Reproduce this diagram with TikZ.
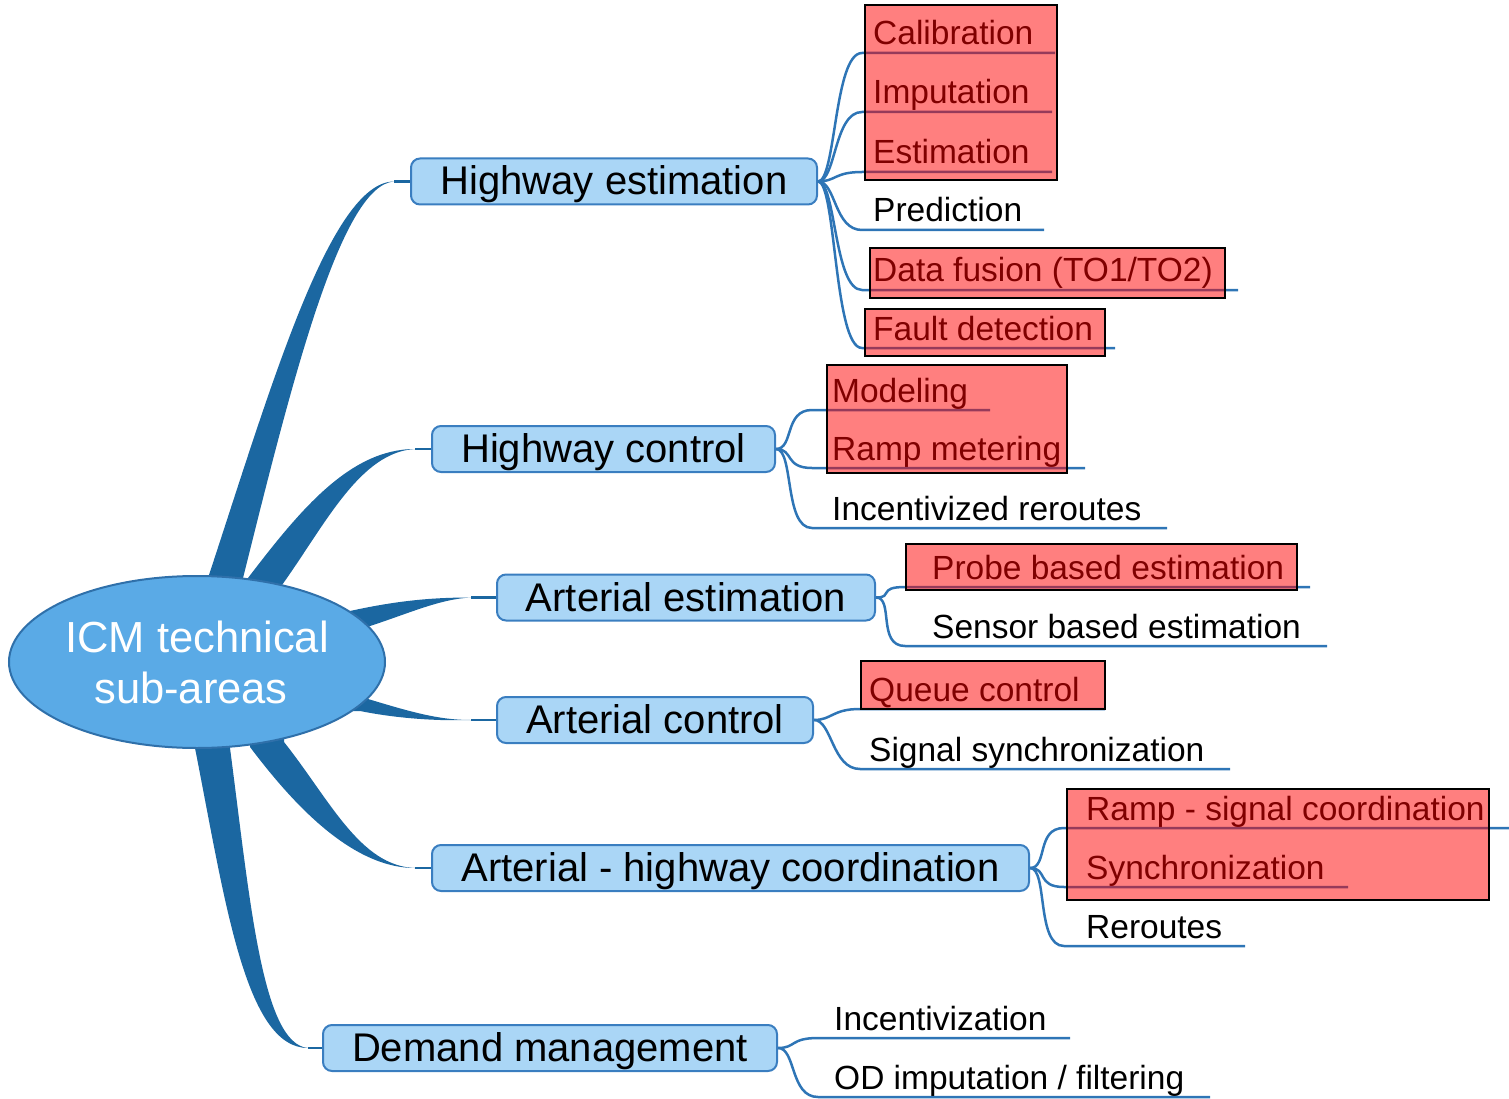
\documentclass[tikz,border=0pt]{standalone}
\usepackage{fontspec}
\setmainfont{Liberation Sans}
\usetikzlibrary{shapes.geometric,calc}
\pgfdeclarelayer{background}
\pgfsetlayers{background,main}
\definecolor{branchblue}{HTML}{1B67A1}
\definecolor{rootfill}{HTML}{5AAAE6}
\definecolor{rootline}{HTML}{2F70AA}
\definecolor{boxfill}{HTML}{AAD6F6}
\definecolor{boxline}{HTML}{3A7EC0}
\definecolor{leafblue}{HTML}{2E75B6}
\newcommand{\leafgroup}[4]{%
  \foreach \i/\txt/\uy/\ex in {#4}{%
    \coordinate (#1-s\i) at (#2,\uy);
    \coordinate (#1-e\i) at (\ex,\uy);
    \draw[leafline] (#1.east) .. controls +(18,0) and +(-28,0) .. (#1-s\i) -- (#1-e\i);
    \node[leaf] (#1-\i) at (#3,\uy-8) {\txt};
  }}
\begin{document}
\begin{tikzpicture}[x=1pt,y=-1pt,
  branch/.style={fill=branchblue},
  stem/.style={draw=branchblue,line width=2.5pt},
  mainbox/.style={draw=boxline,fill=boxfill,line width=2pt,rounded corners=9pt,minimum height=46pt,
    inner sep=0pt,text height=30pt,text depth=3pt,font=\fontsize{40}{48}\selectfont},
  leaf/.style={anchor=base west,inner sep=0pt,font=\fontsize{33.5}{40}\selectfont},
  leafline/.style={draw=leafblue,line width=2.5pt},
  hilite/.style={fill=red,fill opacity=0.5,draw=black,draw opacity=1,line width=2pt}
]
\useasboundingbox (0,0) rectangle (1509,1099);

% main topic boxes
\node[mainbox,minimum width=406pt] (he) at (614,181.5) {Highway estimation};
\node[mainbox,minimum width=343pt] (hc) at (603.5,449) {Highway control};
\node[mainbox,minimum width=378pt] (ae) at (686,597.5) {Arterial estimation};
\node[mainbox,minimum width=316pt] (ac) at (655,720) {Arterial control};
\node[mainbox,minimum width=597pt] (ahc) at (730.5,868) {Arterial - highway coordination};
\node[mainbox,minimum width=454pt] (dm) at (550,1048) {Demand management};

% central topic
\node[ellipse,draw=rootline,fill=rootfill,line width=2pt,minimum width=376pt,minimum height=172pt,
  inner sep=0pt,align=center,text=white,font=\fontsize{43.5}{51}\selectfont] (root) at (197,662)
  {ICM technical\\\hspace*{-12pt}sub-areas};

% tips of the tapered branches
\coordinate (t1) at ($(he.west)+(-16,0)$);
\coordinate (t2) at ($(hc.west)+(-16,0)$);
\coordinate (t3) at ($(ae.west)+(-25,0)$);
\coordinate (t4) at ($(ac.west)+(-25,0)$);
\coordinate (t5) at ($(ahc.west)+(-16,0)$);
\coordinate (t6) at ($(dm.west)+(-14,0)$);

% tapered branches (behind the nodes)
\begin{pgfonlayer}{background}
\fill[branch] (208,640) -- (208,578) .. controls (270,390) and (330,181.5) .. (t1)
  .. controls (340,185) and (290,390) .. (243,578) -- (243,640) -- cycle;
\fill[branch] (248,640) -- (248,578) .. controls (300,510) and (350,449) .. (t2)
  .. controls (360,452) and (325,525) .. (282,585) -- (282,640) -- cycle;
\fill[branch] (300,612) -- (350,611) .. controls (400,600) and (435,597.5) .. (t3)
  .. controls (440,599) and (410,613) .. (370,626) -- (300,626) -- cycle;
\fill[branch] (300,695) -- (358,696) .. controls (405,710) and (435,720) .. (t4)
  .. controls (440,721) and (400,719) .. (360,711) -- (300,711) -- cycle;
\fill[branch] (250,700) -- (250,747) .. controls (290,800) and (350,868) .. (t5)
  .. controls (360,866) and (330,800) .. (284,742) -- (284,700) -- cycle;
\fill[branch] (195,700) -- (195,748) .. controls (225,900) and (245,1048) .. (t6)
  .. controls (262,1044) and (250,900) .. (230,748) -- (230,700) -- cycle;
\foreach \b/\n in {t1/he,t2/hc,t3/ae,t4/ac,t5/ahc,t6/dm}{\draw[stem] (\b) -- (\n.west);}
\end{pgfonlayer}

% sub-topics
\leafgroup{he}{862}{873}{1/Calibration/53/1055, 2/Imputation/112/1052, 3/Estimation/172/1052,
  4/Prediction/230/1044, 5/{Data fusion (TO1/TO2)}/290/1238, 6/Fault detection/348/1115}
\leafgroup{hc}{812}{832}{1/Modeling/410/990, 2/Ramp metering/468/1085, 3/Incentivized reroutes/528/1167}
\leafgroup{ae}{905}{932}{1/Probe based estimation/587/1310, 2/Sensor based estimation/646/1327}
\leafgroup{ac}{860}{869}{1/Queue control/709/1105, 2/Signal synchronization/769/1230}
\leafgroup{ahc}{1064}{1086}{1/Ramp - signal coordination/828/1509, 2/Synchronization/887/1348, 3/Reroutes/946/1245}
\leafgroup{dm}{818}{834}{1/Incentivization/1038/1070, 2/{OD imputation / filtering}/1097/1210}

% highlight overlays
\draw[hilite] (865,5) rectangle (1057,180);
\draw[hilite] (870,248) rectangle (1225,298);
\draw[hilite] (865,309) rectangle (1105,356);
\draw[hilite] (827,365) rectangle (1067,473);
\draw[hilite] (906,544) rectangle (1297,590);
\draw[hilite] (861,661) rectangle (1105,709);
\draw[hilite] (1067,789) rectangle (1489,900);
\end{tikzpicture}
\end{document}
